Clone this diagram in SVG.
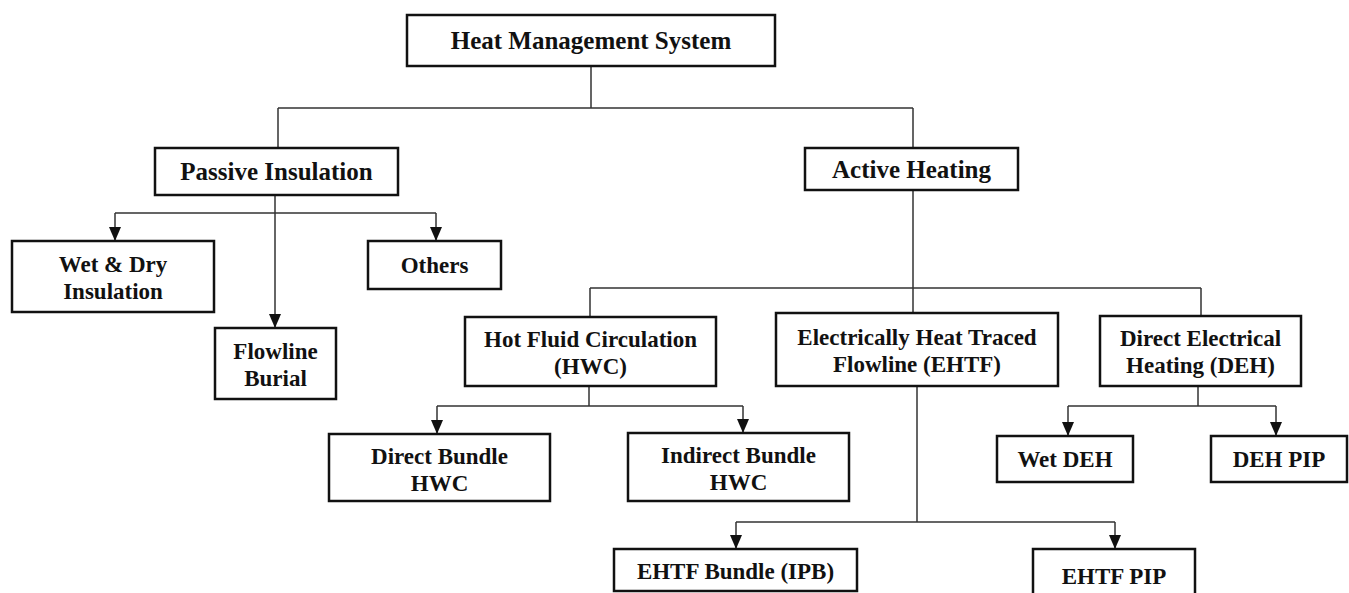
<svg xmlns="http://www.w3.org/2000/svg" width="1349" height="593" viewBox="0 0 1349 593">
<defs>
<marker id="arr" markerUnits="userSpaceOnUse" markerWidth="14" markerHeight="12" refX="14" refY="6" orient="auto" viewBox="0 0 14 12">
<path d="M0,0 L14,6 L0,12 z" fill="#111"/>
</marker>
<style>
.box{fill:#fff;stroke:#111;stroke-width:2.5}
.ln{fill:none;stroke:#333;stroke-width:1.5}
.t{font-family:"Liberation Serif","Times New Roman",serif;font-weight:bold;font-size:23px;fill:#111;text-anchor:middle}
.tl{font-size:25px}
</style>
</defs>
<rect width="1349" height="593" fill="#fff"/>
<g id="connectors">
<path class="ln" d="M591,66 V108 M278,108 H913 M278,108 V148 M913,108 V148"/>
<path class="ln" d="M275,195 V213 M115,213 H436"/>
<path class="ln" d="M115,213 V241" marker-end="url(#arr)"/>
<path class="ln" d="M436,213 V241" marker-end="url(#arr)"/>
<path class="ln" d="M275,213 V328" marker-end="url(#arr)"/>
<path class="ln" d="M913,190 V288 M590,288 H1201 M590,288 V317 M913,288 V313 M1201,288 V316"/>
<path class="ln" d="M589,386 V406 M437,406 H743"/>
<path class="ln" d="M437,406 V434" marker-end="url(#arr)"/>
<path class="ln" d="M743,406 V433" marker-end="url(#arr)"/>
<path class="ln" d="M1198,386 V406 M1068,406 H1276"/>
<path class="ln" d="M1068,406 V436" marker-end="url(#arr)"/>
<path class="ln" d="M1276,406 V436" marker-end="url(#arr)"/>
<path class="ln" d="M917,386 V522 M736,522 H1115"/>
<path class="ln" d="M736,522 V549" marker-end="url(#arr)"/>
<path class="ln" d="M1115,522 V549" marker-end="url(#arr)"/>
</g>
<g id="hms"><rect class="box" x="407" y="15" width="368" height="51"/><text class="t tl" x="591" y="49">Heat Management System</text></g>
<g id="passive"><rect class="box" x="155" y="148" width="243" height="47"/><text class="t tl" x="276.5" y="180">Passive Insulation</text></g>
<g id="active"><rect class="box" x="805" y="148" width="213" height="42"/><text class="t tl" x="911.5" y="178">Active Heating</text></g>
<g id="wetdry"><rect class="box" x="12" y="241" width="202" height="71"/><text class="t" x="113" y="272">Wet &amp; Dry</text><text class="t" x="113" y="299">Insulation</text></g>
<g id="others"><rect class="box" x="368" y="241" width="133" height="48"/><text class="t" x="434.5" y="273">Others</text></g>
<g id="burial"><rect class="box" x="215" y="328" width="121" height="71"/><text class="t" x="275.5" y="359">Flowline</text><text class="t" x="275.5" y="386">Burial</text></g>
<g id="hwc"><rect class="box" x="465" y="317" width="251" height="69"/><text class="t" x="590.5" y="347">Hot Fluid Circulation</text><text class="t" x="590.5" y="374">(HWC)</text></g>
<g id="ehtf"><rect class="box" x="776" y="313" width="282" height="73"/><text class="t" x="917" y="345">Electrically Heat Traced</text><text class="t" x="917" y="372">Flowline (EHTF)</text></g>
<g id="deh"><rect class="box" x="1100" y="316" width="201" height="70"/><text class="t" x="1200.5" y="346">Direct Electrical</text><text class="t" x="1200.5" y="373">Heating (DEH)</text></g>
<g id="direct"><rect class="box" x="329" y="434" width="221" height="67"/><text class="t" x="439.5" y="464">Direct Bundle</text><text class="t" x="439.5" y="491">HWC</text></g>
<g id="indirect"><rect class="box" x="628" y="433" width="221" height="68"/><text class="t" x="738.5" y="463">Indirect Bundle</text><text class="t" x="738.5" y="490">HWC</text></g>
<g id="wetdeh"><rect class="box" x="997" y="436" width="136" height="46"/><text class="t" x="1065" y="467">Wet DEH</text></g>
<g id="dehpip"><rect class="box" x="1211" y="436" width="136" height="46"/><text class="t" x="1279" y="467">DEH PIP</text></g>
<g id="ehtfbundle"><rect class="box" x="614" y="549" width="243" height="42"/><text class="t" x="735.5" y="579">EHTF Bundle (IPB)</text></g>
<g id="ehtfpip"><rect class="box" x="1033" y="549" width="162" height="52"/><text class="t" x="1114" y="584">EHTF PIP</text></g>
</svg>
